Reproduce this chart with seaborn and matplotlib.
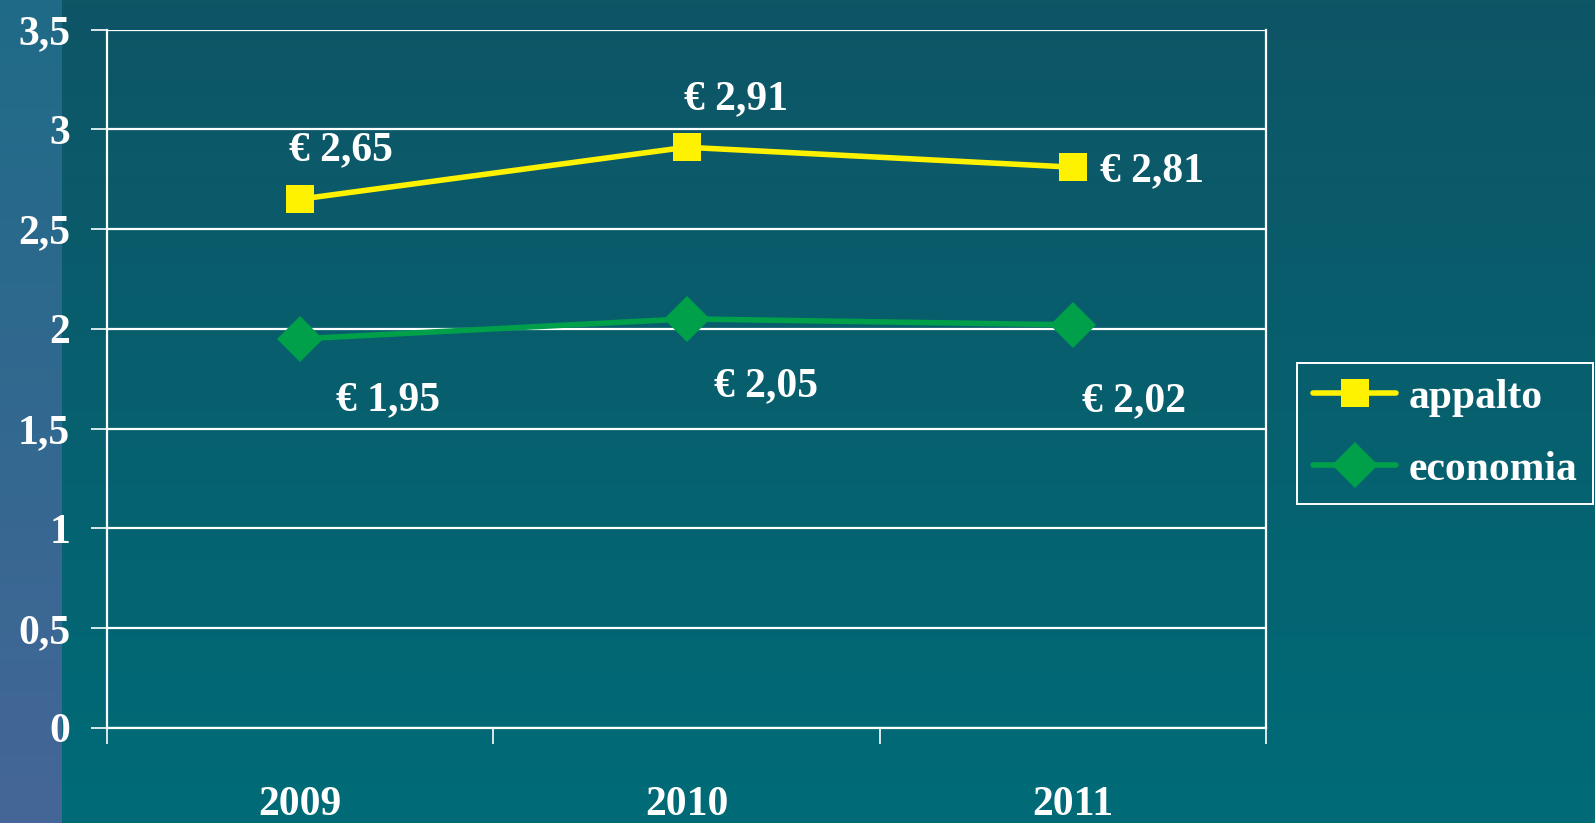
import numpy as np
import pandas as pd
import matplotlib
matplotlib.use("Agg")
import matplotlib.pyplot as plt
from matplotlib.colors import LinearSegmentedColormap
import seaborn as sns

anni = ["2009", "2010", "2011"]
appalto = [2.65, 2.91, 2.81]
economia = [1.95, 2.05, 2.02]
serie = ["appalto", "economia"]
y_ticks = [0, 0.5, 1, 1.5, 2, 2.5, 3, 3.5]
y_labels = ["0", "0,5", "1", "1,5", "2", "2,5", "3", "3,5"]

df = pd.DataFrame({
    "anno": anni * 2,
    "valore": appalto + economia,
    "serie": [serie[0]] * 3 + [serie[1]] * 3,
})

sns.set_theme(style="white")
plt.rcParams["font.family"] = ["Liberation Serif", "DejaVu Serif"]
plt.rcParams["font.weight"] = "bold"

W, H = 1595, 823
FS = 30
fig = plt.figure(figsize=(W / 100, H / 100), dpi=100)

# background: vertical gradient plus a bluish strip on the left
bg = fig.add_axes([0, 0, 1, 1], zorder=-10)
bg.set_axis_off()
grad = np.linspace(0, 1, 256).reshape(-1, 1)
main_cmap = LinearSegmentedColormap.from_list("m", ["#0e5566", "#006b77"])
strip_cmap = LinearSegmentedColormap.from_list("s", ["#1f6b87", "#456698"])
bg.imshow(grad, aspect="auto", cmap=main_cmap, extent=[0, 1, 0, 1], origin="upper")
bg.imshow(grad, aspect="auto", cmap=strip_cmap, extent=[0, 62 / W, 0, 1], origin="upper")
bg.set_xlim(0, 1)
bg.set_ylim(0, 1)

ax = fig.add_axes([107 / W, 95 / H, 1159 / W, 698.5 / H])
ax.set_facecolor("none")

colori = {"appalto": "#fff200", "economia": "#00a04b"}
marker = {"appalto": "s", "economia": "D"}
msize = {"appalto": 20, "economia": 34}
for s in serie:
    sub = df[df["serie"] == s]
    sns.lineplot(data=sub, x="anno", y="valore", ax=ax, color=colori[s],
                 marker=marker[s], markersize=msize[s], markeredgewidth=0,
                 linewidth=4, label=s, zorder=3)

ax.set_xlim(-0.5, 2.5)
ax.set_ylim(0, 3.5)
ax.set_yticks(y_ticks)
ax.set_yticklabels(y_labels)
ax.yaxis.grid(True, color="white", linewidth=1.6)
ax.set_axisbelow(True)
for sp in ax.spines.values():
    sp.set_color("white")
    sp.set_linewidth(1.6)
ax.spines["top"].set_visible(False)
ax.tick_params(axis="y", colors="white", direction="out", length=11.5, width=1.2,
               pad=15, labelsize=FS, left=True)
for t in ax.get_yticklabels():
    t.set_fontweight("bold")

ax.set_xticks([-0.5, 0.5, 1.5, 2.5])
ax.set_xticklabels([])
ax.set_xticks([0, 1, 2], minor=True)
ax.set_xticklabels(anni, minor=True)
ax.tick_params(axis="x", which="major", colors="white", direction="out",
               length=11.5, width=1.2, bottom=True)
ax.tick_params(axis="x", which="minor", colors="white", length=0, pad=42, labelsize=FS)
for t in ax.get_xticklabels(minor=True):
    t.set_fontweight("bold")
ax.set_xlabel("")
ax.set_ylabel("")

# data labels
off_app = [(41, 49), (49, 48), (79, -4)]
off_eco = [(88, -61), (80, -67), (61, -76)]
for i, v in enumerate(appalto):
    ax.annotate("€ " + f"{v:.2f}".replace(".", ","), (i, v), xytext=off_app[i],
                textcoords="offset pixels", ha="center", va="center",
                color="white", fontsize=FS, fontweight="bold")
for i, v in enumerate(economia):
    ax.annotate("€ " + f"{v:.2f}".replace(".", ","), (i, v), xytext=off_eco[i],
                textcoords="offset pixels", ha="center", va="center",
                color="white", fontsize=FS, fontweight="bold")

handles, labels = ax.get_legend_handles_labels()
handles[1].set_markersize(23)
leg = ax.legend(handles, labels, loc="upper left",
                bbox_to_anchor=(1297 / W, 1 - 363 / H), bbox_transform=fig.transFigure,
                frameon=True, fancybox=False, edgecolor="white", facecolor="none",
                framealpha=1, fontsize=FS, handlelength=2.0, handletextpad=0.3,
                borderpad=0.38, labelspacing=0.8, borderaxespad=0)
leg.get_frame().set_linewidth(1.4)
for t in leg.get_texts():
    t.set_color("white")
    t.set_fontweight("bold")

fig.savefig("out.png", dpi=100)
